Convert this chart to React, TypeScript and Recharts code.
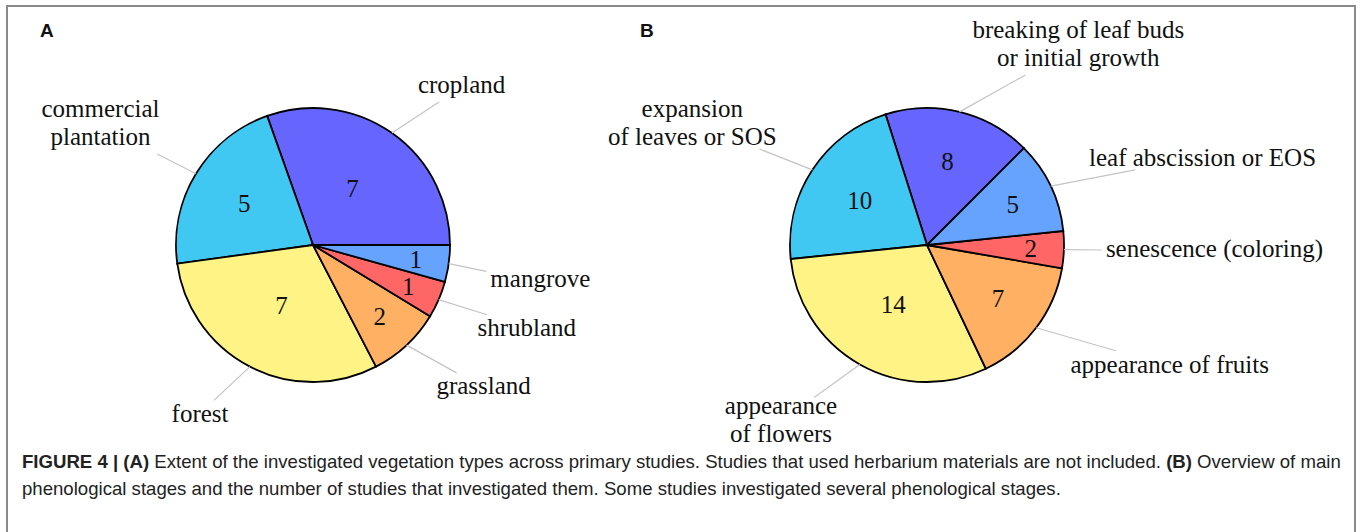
import React from 'react';
import { PieChart, Pie, Cell } from 'recharts';

// panel A: vegetation types (counter-clockwise from 3 o'clock)
const vegetationTypes = ['cropland', 'commercial\nplantation', 'forest', 'grassland', 'shrubland', 'mangrove'];
const vegetationCounts = [7, 5, 7, 2, 1, 1];

// panel B: phenological stages
const stageNames = [
  'breaking of leaf buds\nor initial growth',
  'expansion\nof leaves or SOS',
  'appearance\nof flowers',
  'appearance of fruits',
  'senescence (coloring)',
  'leaf abscission or EOS',
];
const stageCounts = [8, 10, 14, 7, 2, 5];

const SLICE_COLORS = ['#6666FF', '#41C8F2', '#FFF385', '#FFB062', '#FF6666', '#66A3FF'];

const SERIF = '"Liberation Serif", "Times New Roman", serif';
const SANS = '"Liberation Sans", Arial, Helvetica, sans-serif';
const FS = 25;
const LINE_H = 28;
const INNER = 4;
const PIN = 38;
const R = 137;

const vegetationData = vegetationTypes.map((name, i) => ({ name, value: vegetationCounts[i] }));
const stageData = stageNames.map((name, i) => ({ name, value: stageCounts[i] }));

let ctx: CanvasRenderingContext2D | null = null;
const measure = (text: string) => {
  if (!ctx) ctx = document.createElement('canvas').getContext('2d');
  ctx!.font = `${FS}px ${SERIF}`;
  const m = ctx!.measureText(text);
  return { w: m.width, asc: m.actualBoundingBoxAscent, desc: m.actualBoundingBoxDescent };
};

// tikz-style anchor: which side of the label box sits on the pin point
const anchorFor = (angle: number) => {
  const a = ((angle % 360) + 360) % 360;
  if (a < 2 || a >= 358) return [0, 0.5];
  if (a < 88) return [0, 1];
  if (a < 92) return [0.5, 1];
  if (a < 178) return [1, 1];
  if (a < 182) return [1, 0.5];
  if (a < 268) return [1, 0];
  if (a < 272) return [0.5, 0];
  return [0, 0];
};

const renderLabel = (props: any) => {
  const { cx, cy, midAngle, outerRadius, percent, name, value } = props;
  const rad = (midAngle * Math.PI) / 180;
  const cos = Math.cos(rad);
  const sin = Math.sin(rad);

  // number inside the slice, pulled outwards for thin slices
  const span = percent * 360;
  const k = Math.max(Math.min((span / 110) * -0.3, 0), -0.5) + 0.8;
  const nx = cx + k * outerRadius * cos;
  const ny = cy - k * outerRadius * sin;
  const nm = measure(String(value));

  // outer label with pin line
  const p0x = cx + outerRadius * cos;
  const p0y = cy - outerRadius * sin;
  const px = p0x + PIN * cos;
  const py = p0y - PIN * sin;
  const lines = String(name).split('\n');
  const ms = lines.map(measure);
  const top = ms[0].asc;
  const bottom = (lines.length - 1) * LINE_H + ms[ms.length - 1].desc;
  const w = Math.max(...ms.map((m) => m.w)) + 2 * INNER;
  const h = top + bottom + 2 * INNER;
  const [ax, ay] = anchorFor(midAngle);
  const boxL = px - ax * w;
  const boxT = py - ay * h;
  const ccx = boxL + w / 2;
  const ccy = boxT + h / 2;
  const dx = ccx - p0x;
  const dy = ccy - p0y;
  const f = Math.min(dx ? w / 2 / Math.abs(dx) : Infinity, dy ? h / 2 / Math.abs(dy) : Infinity);
  const ex = p0x + dx * (1 - f);
  const ey = p0y + dy * (1 - f);
  const base = boxT + INNER + top;

  return (
    <g>
      <line x1={p0x} y1={p0y} x2={ex} y2={ey} stroke="#c4c4c4" strokeWidth={1.2} />
      <text x={nx} y={ny + nm.asc / 2} textAnchor="middle" fontFamily={SERIF} fontSize={FS} fill="#111">
        {value}
      </text>
      <text textAnchor="middle" fontFamily={SERIF} fontSize={FS} fill="#111">
        {lines.map((ln, i) => (
          <tspan key={i} x={ccx} y={base + i * LINE_H}>
            {ln}
          </tspan>
        ))}
      </text>
    </g>
  );
};

const PanelLetter = ({ left, text }: { left: number; text: string }) => (
  <div
    style={{
      position: 'absolute',
      left,
      top: 21,
      fontFamily: SANS,
      fontWeight: 'bold',
      fontSize: 19,
      lineHeight: '19px',
      color: '#111',
    }}
  >
    {text}
  </div>
);

export default function App() {
  return (
    <div style={{ position: 'absolute', left: 0, top: 0, width: 1360, height: 532, overflow: 'hidden', background: '#fff' }}>
      <div
        style={{
          position: 'absolute',
          left: 6,
          top: 5,
          width: 1350,
          height: 620,
          boxSizing: 'border-box',
          border: '2px solid #8a8a8a',
        }}
      />
      <PanelLetter left={40} text="A" />
      <PanelLetter left={640} text="B" />
      <div style={{ position: 'absolute', left: 0, top: 0 }}>
        <PieChart width={1360} height={450} margin={{ top: 0, right: 0, bottom: 0, left: 0 }}>
          <Pie
            data={vegetationData}
            dataKey="value"
            cx={313}
            cy={245}
            outerRadius={R}
            startAngle={0}
            endAngle={360}
            stroke="#000"
            strokeWidth={1.8}
            label={renderLabel}
            labelLine={false}
            isAnimationActive={false}
          >
            {vegetationData.map((d, i) => (
              <Cell key={d.name} fill={SLICE_COLORS[i]} />
            ))}
          </Pie>
          <Pie
            data={stageData}
            dataKey="value"
            cx={927}
            cy={245}
            outerRadius={R}
            startAngle={45}
            endAngle={405}
            stroke="#000"
            strokeWidth={1.8}
            label={renderLabel}
            labelLine={false}
            isAnimationActive={false}
          >
            {stageData.map((d, i) => (
              <Cell key={d.name} fill={SLICE_COLORS[i]} />
            ))}
          </Pie>
        </PieChart>
      </div>
      <div
        style={{
          position: 'absolute',
          left: 22,
          top: 448,
          fontFamily: SANS,
          fontSize: 18.6,
          lineHeight: '27px',
          color: '#222',
          whiteSpace: 'nowrap',
        }}
      >
        <b>FIGURE 4 | (A)</b> Extent of the investigated vegetation types across primary studies. Studies that used herbarium
        materials are not included. <b>(B)</b> Overview of main
        <br />
        phenological stages and the number of studies that investigated them. Some studies investigated several phenological
        stages.
      </div>
    </div>
  );
}
